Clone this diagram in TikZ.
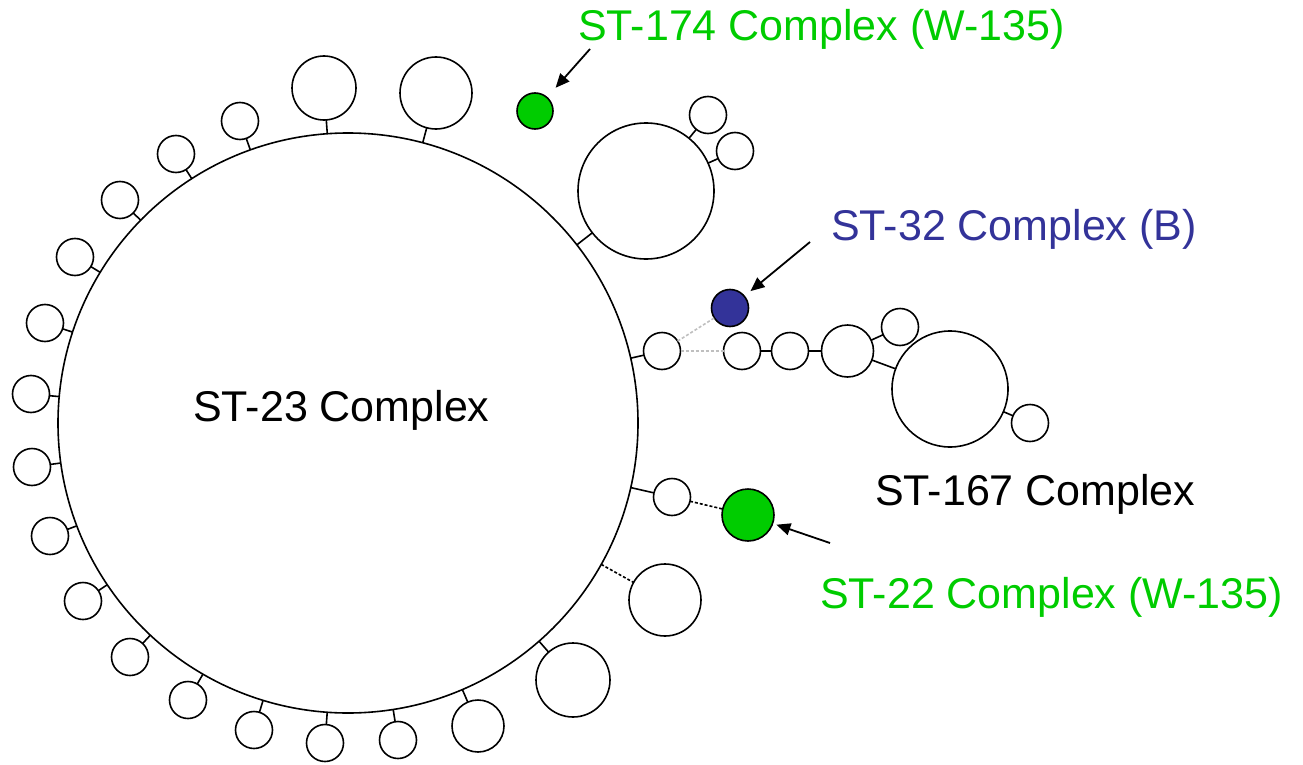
\documentclass[tikz,border=0pt]{standalone}
\usepackage{fontspec}
\setmainfont{Liberation Sans}
\usetikzlibrary{positioning,arrows.meta}

\definecolor{stgreen}{RGB}{0,204,0}
\definecolor{stblue}{RGB}{51,51,153}

\tikzset{
  st/.style={circle,draw,line width=1.6pt,inner sep=0pt,outer sep=0pt,fill=white},
  leaf/.style={st,minimum size=37pt},
  stem/.style={line width=1.6pt},
  dashlink/.style={line width=1.6pt,dash pattern=on 3pt off 2pt},
  greylink/.style={line width=1.6pt,black!25,dash pattern=on 3pt off 2pt},
  lbl/.style={font=\fontsize{43}{51}\selectfont,inner sep=0pt,anchor=base west},
  pointer/.style={-{Triangle[length=14pt,width=12pt]},line width=1.8pt}
}

\begin{document}
\begin{tikzpicture}[x=1pt,y=-1pt]
\useasboundingbox (0,0) rectangle (1303,765);

% ST-23 complex
\node[st,minimum size=580pt] (ST23) at (348,423) {};
\node[lbl] (L23) at (193,421) {ST-23 Complex};

\foreach \i/\cx/\cy in {1/240/121, 2/176/154, 3/120/200, 4/75/257, 5/45/323, 6/31/394, 7/32/467,
                        8/50/536, 9/83/601, 10/130/657, 11/188/700, 12/254/730, 13/325/743, 14/398/740}
  { \node[leaf] (leaf\i) at (\cx,\cy) {};
    \draw[stem] (ST23) -- (leaf\i); }

\node[st,minimum size=64pt] (top1) at (324,88) {};
\node[st,minimum size=72pt] (top2) at (436,93) {};
\node[st,minimum size=52pt] (bot1) at (478,726) {};
\node[st,minimum size=74pt] (bot2) at (573,680) {};
\node[st,minimum size=72pt] (bot3) at (665,600) {};
\draw[stem] (ST23) -- (top1);
\draw[stem] (ST23) -- (top2);
\draw[stem] (ST23) -- (bot1);
\draw[stem] (ST23) -- (bot2);
\draw[dashlink] (ST23) -- (bot3);

% upper right group
\node[st,minimum size=136pt] (up) at (646,191) {};
\node[leaf] (up1) at (708,115) {};
\node[leaf] (up2) at (735,151) {};
\draw[stem] (ST23) -- (up);
\draw[stem] (up) -- (up1);
\draw[stem] (up) -- (up2);

% ST-174
\node[st,fill=stgreen,minimum size=36pt] (G174) at (535,111) {};
\node[lbl,text=stgreen] (L174) at (578,41) {ST-174 Complex (W-135)};
\coordinate (a174) at (590,49);
\draw[pointer,shorten >=13pt] (a174) -- (G174);

% ST-167 and ST-32
\node[leaf] (s0) at (662,351) {};
\node[leaf] (s1) at (742,351) {};
\node[leaf,right=11pt of s1] (s2) {};
\node[st,minimum size=52pt,right=13pt of s2] (s3) {};
\node[leaf] (s4) at (900,327) {};
\node[st,minimum size=116pt] (s5) at (950,389) {};
\node[leaf] (s6) at (1030,423) {};
\draw[stem] (ST23) -- (s0);
\draw[greylink] (s0) -- (s1);
\draw[stem] (s1) -- (s2);
\draw[stem] (s2) -- (s3);
\draw[stem] (s3) -- (s4);
\draw[stem] (s3) -- (s5);
\draw[stem] (s5) -- (s6);
\node[lbl] (L167) at (875,505) {ST-167 Complex};

\node[st,fill=stblue,minimum size=37pt] (B32) at (730,308) {};
\draw[greylink] (s0) -- (B32);
\node[lbl,text=stblue] (L32) at (831,240) {ST-32 Complex (B)};
\coordinate (a32) at (810,242);
\draw[pointer,shorten >=8pt] (a32) -- (B32);

% ST-22
\node[leaf] (t0) at (672,497) {};
\node[st,fill=stgreen,minimum size=52pt] (G22) at (748,515) {};
\draw[stem] (ST23) -- (t0);
\draw[dashlink] (t0) -- (G22);
\node[lbl,text=stgreen] (L22) at (820,608) {ST-22 Complex (W-135)};
\coordinate (a22) at (830,543);
\draw[pointer,shorten >=4pt] (a22) -- (G22);

\end{tikzpicture}
\end{document}
